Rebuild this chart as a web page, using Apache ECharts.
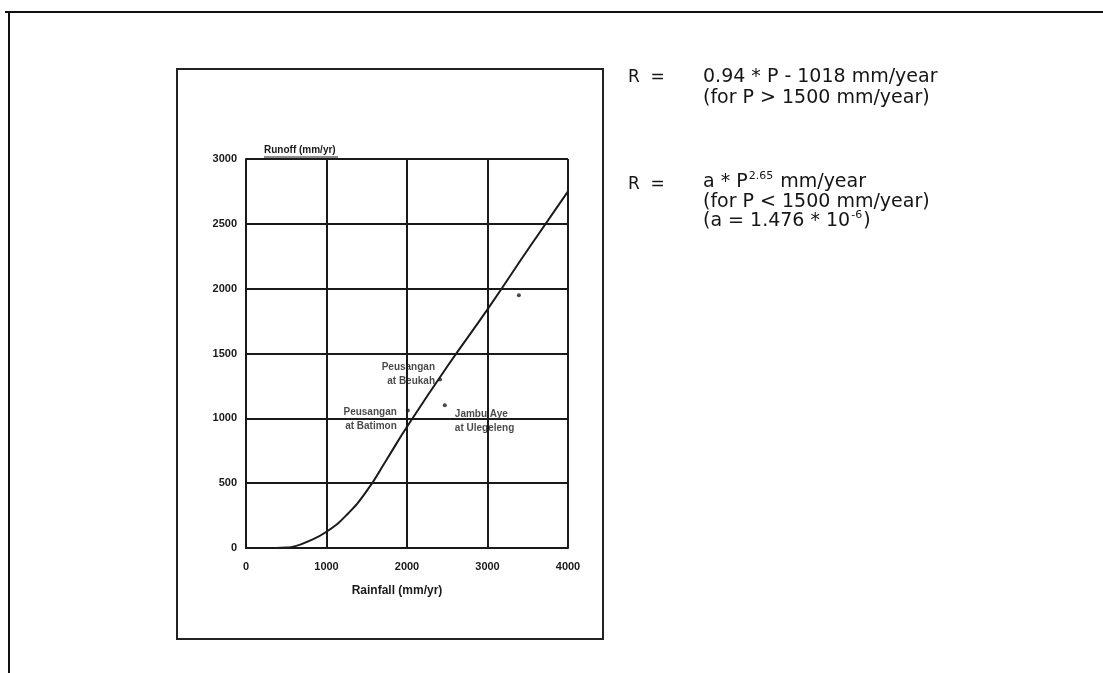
<!DOCTYPE html>
<html>
<head>
<meta charset="utf-8">
<script src="https://cdn.jsdelivr.net/npm/echarts@6/dist/echarts.min.js"></script>
<style>html,body{margin:0;padding:0;background:#fff;}#c{width:1103px;height:673px;}</style>
</head>
<body>
<div id="c"></div>
<script>
// Rainfall–runoff relation
const rainfall = [0, 250, 500, 600, 750, 1000, 1250, 1500, 1750, 2000, 2500, 3000, 3500, 4000];
const runoff   = [0, 0, 4, 12, 45, 125, 255, 440, 685, 935, 1400, 1840, 2300, 2750];

const stationNames = ['Peusangan\nat Beukah', 'Peusangan\nat Batimon', 'Jambu Aye\nat Ulegeleng', ''];
const stationP = [2410, 2010, 2470, 3390];
const stationR = [1300, 1060, 1100, 1950];

const xTicks = [0, 1000, 2000, 3000, 4000];
const yTicks = [0, 500, 1000, 1500, 2000, 2500, 3000];

const ink = '#1a1a1a';
const chart = echarts.init(document.getElementById('c'));

const labelPos = [
  {position: 'left', offset: [2, -5], align: 'right'},
  {position: 'left', offset: [-4, 9], align: 'right'},
  {position: 'right', offset: [3, 16], align: 'left'}
];

const richText = (size) => ({fontFamily: '"DejaVu Sans"', fontSize: size, fill: '#151515'});

chart.setOption({
  animation: false,
  backgroundColor: '#fff',
  grid: {left: 246, top: 159, width: 322, height: 389, containLabel: false},
  xAxis: {
    type: 'value', min: 0, max: 4000, interval: 1000,
    name: 'Rainfall (mm/yr)', nameLocation: 'middle', nameGap: 37,
    nameTextStyle: {fontFamily: 'Liberation Sans', fontWeight: 'bold', fontSize: 12, color: ink, padding: [0, 20, 0, 0]},
    axisLine: {show: true, onZero: false, lineStyle: {color: ink, width: 2}},
    axisTick: {show: false},
    axisLabel: {margin: 13, fontFamily: 'Liberation Sans', fontWeight: 'bold', fontSize: 11, color: ink,
      formatter: v => xTicks.includes(v) ? String(v) : ''},
    splitLine: {show: true, lineStyle: {color: ink, width: 2}}
  },
  yAxis: {
    type: 'value', min: 0, max: 3000, interval: 500,
    name: 'Runoff (mm/yr)', nameLocation: 'end', nameGap: 4,
    nameTextStyle: {fontFamily: 'Liberation Sans', fontWeight: 'bold', fontSize: 10, color: ink, align: 'left', padding: [0, 0, 0, 18]},
    axisLine: {show: true, lineStyle: {color: ink, width: 2}},
    axisTick: {show: false},
    axisLabel: {margin: 9, fontFamily: 'Liberation Sans', fontWeight: 'bold', fontSize: 11, color: ink,
      formatter: v => yTicks.includes(v) ? String(v) : ''},
    splitLine: {show: true, lineStyle: {color: ink, width: 2}}
  },
  series: [
    {
      type: 'line', data: rainfall.map((p, i) => [p, runoff[i]]),
      smooth: 0.5, showSymbol: false, lineStyle: {color: ink, width: 2}, z: 5
    },
    {
      type: 'scatter', symbol: 'circle', symbolSize: 4,
      itemStyle: {color: ink},
      data: stationP.map((p, i) => ({
        value: [p, stationR[i]],
        label: Object.assign({show: !!stationNames[i], formatter: stationNames[i],
          fontFamily: 'Liberation Sans', fontWeight: 'bold', fontSize: 10, color: ink, lineHeight: 14}, labelPos[i] || {})
      })),
      z: 6
    }
  ],
  graphic: [
    // outer page frame
    {type: 'line', shape: {x1: 5, y1: 12, x2: 1103, y2: 12}, style: {stroke: '#111', lineWidth: 2}},
    {type: 'line', shape: {x1: 9, y1: 12, x2: 9, y2: 673}, style: {stroke: '#111', lineWidth: 2}},
    // inner figure box
    {type: 'rect', shape: {x: 177, y: 69, width: 426, height: 570}, style: {fill: 'none', stroke: '#222', lineWidth: 2}},
    // plot frame top/right
    {type: 'line', shape: {x1: 246, y1: 159, x2: 568, y2: 159}, style: {stroke: ink, lineWidth: 2}},
    {type: 'line', shape: {x1: 568, y1: 159, x2: 568, y2: 548}, style: {stroke: ink, lineWidth: 2}},
    // underline of y title
    {type: 'line', shape: {x1: 264, y1: 157, x2: 338, y2: 157}, style: {stroke: ink, lineWidth: 1}},
    // formulas
    {type: 'text', left: 628, top: 69, style: Object.assign({text: 'R  ='}, richText(17))},
    {type: 'text', left: 703, top: 68, style: Object.assign({text: '0.94 * P - 1018 mm/year'}, richText(19))},
    {type: 'text', left: 703, top: 89, style: Object.assign({text: '(for P > 1500 mm/year)'}, richText(19))},
    {type: 'text', left: 628, top: 176, style: Object.assign({text: 'R  ='}, richText(17))},
    {type: 'text', left: 703, top: 171, style: {
      text: '{n|a * P}{s|2.65}{n| mm/year}',
      rich: {n: richText(19), s: Object.assign({verticalAlign: 'top', padding: [0, 1, 11, 1]}, richText(11))}}},
    {type: 'text', left: 703, top: 193, style: Object.assign({text: '(for P < 1500 mm/year)'}, richText(19))},
    {type: 'text', left: 703, top: 210, style: {
      text: '{n|(a = 1.476 * 10}{s|-6}{n|)}',
      rich: {n: richText(19), s: Object.assign({verticalAlign: 'top', padding: [0, 1, 11, 1]}, richText(11))}}}
  ]
});
</script>
</body>
</html>
